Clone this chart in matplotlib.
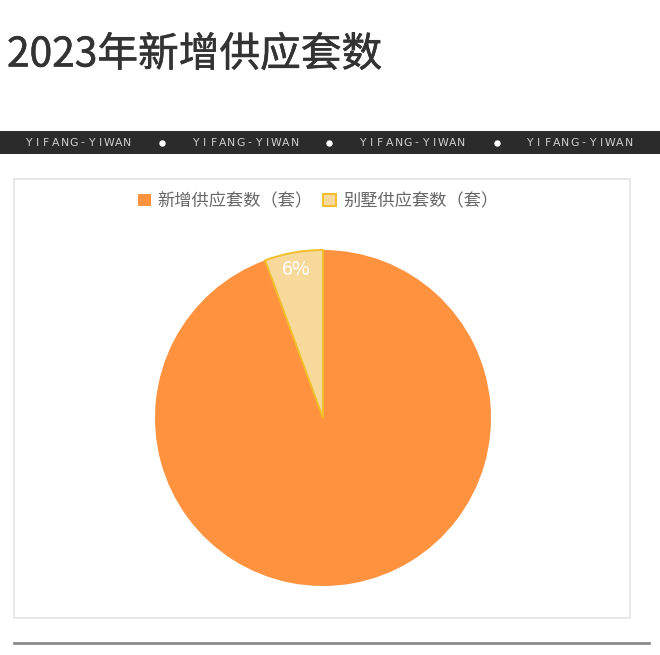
import matplotlib.pyplot as plt
import matplotlib.patheffects as pe
from matplotlib.patches import Rectangle
from matplotlib.lines import Line2D

plt.rcParams['font.family'] = ['Noto Sans CJK SC', 'DejaVu Sans']

# ----------------------------
# Data
# ----------------------------

title = "2023年新增供应套数"
labels = ["新增供应套数（套）", "别墅供应套数（套）"]
shares = [94.4, 5.6]
colors = ["#fe923e", "#f8d99c"]
edges = ["#fe923e", "#f1bf2c"]
band_word = "YIFANG-YIWAN"

W, H = 660, 655


def fx(px):
    return px / W


def fy(py):
    return 1 - py / H


fig = plt.figure(figsize=(6.6, 6.55), dpi=100)
fig.patch.set_facecolor("white")

# title (slightly thickened with a stroke)
fig.text(fx(7), fy(55), title, fontsize=29.3, color="#333333",
         ha="left", va="center",
         path_effects=[pe.withStroke(linewidth=0.4, foreground="#333333")])

# dark band with repeated word
fig.add_artist(Rectangle((0, fy(154)), 1, fy(131) - fy(154),
                         transform=fig.transFigure, facecolor="#2b2b2b",
                         edgecolor="none"))

for cx in [78, 245, 412, 579]:
    n = len(band_word)
    for i, ch in enumerate(band_word):
        x = cx + (i - (n - 1) / 2) * 9.0
        fig.text(fx(x), fy(142.5), ch, fontsize=7.8, color="#d0d0d0",
                 family="DejaVu Sans", ha="center", va="center")

for dx in [162, 329, 497]:
    fig.add_artist(Line2D([fx(dx)], [fy(142.5)], marker="o", ms=3.6,
                          color="white", transform=fig.transFigure))

# chart box
fig.add_artist(Rectangle((fx(14), fy(618)), fx(630) - fx(14),
                         fy(179) - fy(618), transform=fig.transFigure,
                         facecolor="none", edgecolor="#e4e4e4", lw=1.2))

# pie
r = 168
ax = fig.add_axes([fx(323 - r), fy(418 + r), 2 * r / W, 2 * r / H])


def pct_label(p):
    if p > 50:
        return ""
    return f"{p:.0f}%"


wedges, texts, autotexts = ax.pie(
    shares,
    colors=colors,
    startangle=90,
    counterclock=False,
    autopct=pct_label,
    pctdistance=0.9,
    wedgeprops={"linewidth": 1.4, "clip_on": False},
    textprops={"color": "white", "fontsize": 14},
)

for w, ec in zip(wedges, edges):
    w.set_edgecolor(ec)

wedges[0].set_linewidth(0)

ax.set_xlim(-1, 1)
ax.set_ylim(-1, 1)
ax.axis("off")

# legend
fig.legend(
    wedges,
    labels,
    loc="center",
    bbox_to_anchor=(fx(318), fy(201)),
    ncol=2,
    frameon=False,
    fontsize=12.4,
    labelcolor="#666666",
    handlelength=0.75,
    handleheight=0.75,
    handletextpad=0.4,
    columnspacing=0.6,
)

# bottom rule
fig.add_artist(Line2D([fx(14), fx(649)], [fy(643), fy(643)],
                      color="#8a8a8a", lw=2, transform=fig.transFigure))

fig.savefig("out.png", dpi=100)
